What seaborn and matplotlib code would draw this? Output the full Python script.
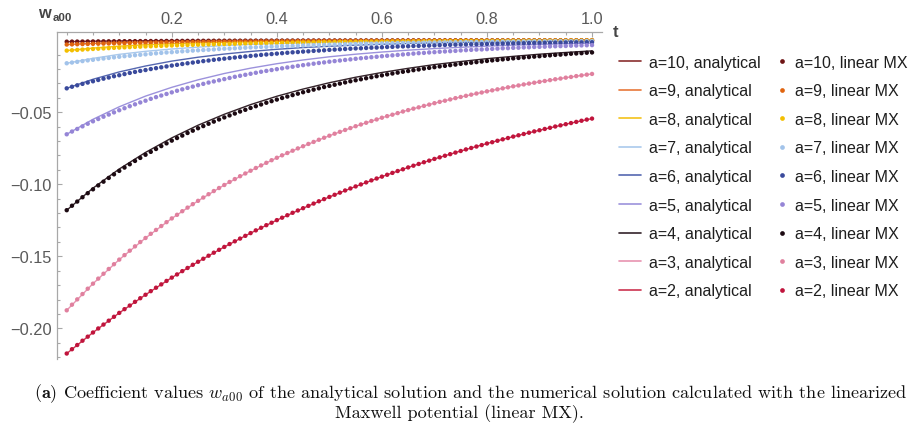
import numpy as np
import pandas as pd
import matplotlib
matplotlib.use("Agg")
import matplotlib.pyplot as plt
from matplotlib.lines import Line2D
from matplotlib.ticker import FixedLocator
import seaborn as sns

# Mode index a, in legend order
levels = [10, 9, 8, 7, 6, 5, 4, 3, 2]

# Sample times of the analytical curves and of the linear MX solution
t_analytical = np.linspace(0.0, 1.0, 21)
t_linear_mx = np.linspace(0.0, 1.0, 101)

# Analytical solution w_a00(t)
analytical_a2 = [-0.2175, -0.2029, -0.1893, -0.1767, -0.1648, -0.1538, -0.1435, -0.1339, -0.1249, -0.1166, -0.1088,
                 -0.1015, -0.0947, -0.0883, -0.0824, -0.0769, -0.0717, -0.0669, -0.0625, -0.0583, -0.0544]
analytical_a3 = [-0.1875, -0.1690, -0.1523, -0.1373, -0.1237, -0.1115, -0.1005, -0.0906, -0.0816, -0.0736, -0.0663,
                 -0.0597, -0.0538, -0.0485, -0.0437, -0.0394, -0.0355, -0.0320, -0.0289, -0.0260, -0.0234]
analytical_a4 = [-0.1180, -0.1027, -0.0894, -0.0779, -0.0678, -0.0590, -0.0514, -0.0447, -0.0389, -0.0339, -0.0295,
                 -0.0257, -0.0224, -0.0195, -0.0169, -0.0148, -0.0128, -0.0112, -0.0097, -0.0085, -0.0074]
analytical_a5 = [-0.0653, -0.0549, -0.0462, -0.0388, -0.0327, -0.0275, -0.0231, -0.0194, -0.0163, -0.0137, -0.0115,
                 -0.0097, -0.0082, -0.0069, -0.0058, -0.0049, -0.0041, -0.0034, -0.0029, -0.0024, -0.0020]
analytical_a6 = [-0.0334, -0.0271, -0.0220, -0.0179, -0.0145, -0.0118, -0.0096, -0.0078, -0.0063, -0.0051, -0.0042,
                 -0.0034, -0.0028, -0.0022, -0.0018, -0.0015, -0.0012, -0.0010, -0.0008, -0.0006, -0.0005]
analytical_a7 = [-0.0160, -0.0126, -0.0098, -0.0077, -0.0061, -0.0048, -0.0037, -0.0029, -0.0023, -0.0018, -0.0014,
                 -0.0011, -0.0009, -0.0007, -0.0005, -0.0004, -0.0003, -0.0003, -0.0002, -0.0002, -0.0001]
analytical_a8 = [-0.00720, -0.00546, -0.00414, -0.00313, -0.00238, -0.00180, -0.00136, -0.00103, -0.00078, -0.00059,
                 -0.00045, -0.00034, -0.00026, -0.00020, -0.00015, -0.00011, -0.00009, -0.00006, -0.00005, -0.00004,
                 -0.00003]
analytical_a9 = [-0.00300, -0.00220, -0.00161, -0.00118, -0.00086, -0.00063, -0.00046, -0.00034, -0.00025, -0.00018,
                 -0.00013, -0.00010, -0.00007, -0.00005, -0.00004, -0.00003, -0.00002, -0.00001, -0.00001, -0.00001,
                 -0.00001]
analytical_a10 = [-0.00100, -0.00071, -0.00050, -0.00035, -0.00025, -0.00018, -0.00013, -0.00009, -0.00006, -0.00004,
                  -0.00003, -0.00002, -0.00002, -0.00001, -0.00001, -0.00001, 0.0, 0.0, 0.0, 0.0, 0.0]

# Numerical solution with the linearized Maxwell potential (linear MX)
linear_mx_a2 = [
    -0.2175, -0.2145, -0.2116, -0.2086, -0.2058, -0.2029, -0.2001, -0.1974, -0.1947, -0.1920,
    -0.1893, -0.1867, -0.1842, -0.1816, -0.1791, -0.1767, -0.1742, -0.1718, -0.1695, -0.1671,
    -0.1648, -0.1626, -0.1603, -0.1581, -0.1559, -0.1538, -0.1517, -0.1496, -0.1475, -0.1455,
    -0.1435, -0.1415, -0.1396, -0.1377, -0.1358, -0.1339, -0.1320, -0.1302, -0.1284, -0.1267,
    -0.1249, -0.1232, -0.1215, -0.1198, -0.1182, -0.1166, -0.1150, -0.1134, -0.1118, -0.1103,
    -0.1088, -0.1073, -0.1058, -0.1043, -0.1029, -0.1015, -0.1001, -0.0987, -0.0973, -0.0960,
    -0.0947, -0.0934, -0.0921, -0.0908, -0.0896, -0.0883, -0.0871, -0.0859, -0.0847, -0.0836,
    -0.0824, -0.0813, -0.0802, -0.0791, -0.0780, -0.0769, -0.0758, -0.0748, -0.0738, -0.0728,
    -0.0717, -0.0708, -0.0698, -0.0688, -0.0679, -0.0669, -0.0660, -0.0651, -0.0642, -0.0633,
    -0.0625, -0.0616, -0.0608, -0.0599, -0.0591, -0.0583, -0.0575, -0.0567, -0.0559, -0.0551,
    -0.0544]
linear_mx_a3 = [
    -0.1875, -0.1836, -0.1799, -0.1762, -0.1725, -0.1690, -0.1655, -0.1621, -0.1588, -0.1555,
    -0.1523, -0.1492, -0.1461, -0.1431, -0.1401, -0.1373, -0.1344, -0.1317, -0.1290, -0.1263,
    -0.1237, -0.1212, -0.1187, -0.1162, -0.1138, -0.1115, -0.1092, -0.1069, -0.1047, -0.1026,
    -0.1005, -0.0984, -0.0964, -0.0944, -0.0925, -0.0906, -0.0887, -0.0869, -0.0851, -0.0833,
    -0.0816, -0.0799, -0.0783, -0.0767, -0.0751, -0.0736, -0.0720, -0.0706, -0.0691, -0.0677,
    -0.0663, -0.0649, -0.0636, -0.0623, -0.0610, -0.0597, -0.0585, -0.0573, -0.0561, -0.0550,
    -0.0538, -0.0527, -0.0517, -0.0506, -0.0495, -0.0485, -0.0475, -0.0466, -0.0456, -0.0447,
    -0.0437, -0.0428, -0.0420, -0.0411, -0.0402, -0.0394, -0.0386, -0.0378, -0.0370, -0.0363,
    -0.0355, -0.0348, -0.0341, -0.0334, -0.0327, -0.0320, -0.0314, -0.0307, -0.0301, -0.0295,
    -0.0289, -0.0283, -0.0277, -0.0271, -0.0266, -0.0260, -0.0255, -0.0249, -0.0244, -0.0239,
    -0.0234]
linear_mx_a4 = [
    -0.1180, -0.1149, -0.1120, -0.1090, -0.1062, -0.1035, -0.1008, -0.0982, -0.0956, -0.0931,
    -0.0907, -0.0884, -0.0861, -0.0838, -0.0817, -0.0795, -0.0775, -0.0755, -0.0735, -0.0716,
    -0.0697, -0.0679, -0.0662, -0.0644, -0.0628, -0.0611, -0.0596, -0.0580, -0.0565, -0.0550,
    -0.0536, -0.0522, -0.0509, -0.0495, -0.0483, -0.0470, -0.0458, -0.0446, -0.0434, -0.0423,
    -0.0412, -0.0401, -0.0391, -0.0381, -0.0371, -0.0361, -0.0352, -0.0343, -0.0334, -0.0325,
    -0.0317, -0.0309, -0.0301, -0.0293, -0.0285, -0.0278, -0.0271, -0.0264, -0.0257, -0.0250,
    -0.0244, -0.0237, -0.0231, -0.0225, -0.0219, -0.0214, -0.0208, -0.0203, -0.0197, -0.0192,
    -0.0187, -0.0182, -0.0178, -0.0173, -0.0169, -0.0164, -0.0160, -0.0156, -0.0152, -0.0148,
    -0.0144, -0.0140, -0.0137, -0.0133, -0.0130, -0.0126, -0.0123, -0.0120, -0.0117, -0.0114,
    -0.0111, -0.0108, -0.0105, -0.0102, -0.0100, -0.0097, -0.0094, -0.0092, -0.0090, -0.0087,
    -0.0085]
linear_mx_a5 = [
    -0.0653, -0.0634, -0.0616, -0.0598, -0.0580, -0.0563, -0.0547, -0.0531, -0.0516, -0.0501,
    -0.0486, -0.0472, -0.0458, -0.0445, -0.0432, -0.0420, -0.0407, -0.0395, -0.0384, -0.0373,
    -0.0362, -0.0351, -0.0341, -0.0331, -0.0322, -0.0312, -0.0303, -0.0294, -0.0286, -0.0278,
    -0.0270, -0.0262, -0.0254, -0.0247, -0.0240, -0.0233, -0.0226, -0.0219, -0.0213, -0.0207,
    -0.0201, -0.0195, -0.0189, -0.0184, -0.0178, -0.0173, -0.0168, -0.0163, -0.0158, -0.0154,
    -0.0149, -0.0145, -0.0141, -0.0137, -0.0133, -0.0129, -0.0125, -0.0122, -0.0118, -0.0115,
    -0.0111, -0.0108, -0.0105, -0.0102, -0.0099, -0.0096, -0.0093, -0.0090, -0.0088, -0.0085,
    -0.0083, -0.0080, -0.0078, -0.0076, -0.0074, -0.0071, -0.0069, -0.0067, -0.0065, -0.0064,
    -0.0062, -0.0060, -0.0058, -0.0056, -0.0055, -0.0053, -0.0052, -0.0050, -0.0049, -0.0047,
    -0.0046, -0.0045, -0.0043, -0.0042, -0.0041, -0.0040, -0.0038, -0.0037, -0.0036, -0.0035,
    -0.0034]
linear_mx_a6 = [
    -0.0334, -0.0323, -0.0313, -0.0303, -0.0294, -0.0285, -0.0276, -0.0267, -0.0259, -0.0250,
    -0.0243, -0.0235, -0.0227, -0.0220, -0.0213, -0.0207, -0.0200, -0.0194, -0.0188, -0.0182,
    -0.0176, -0.0171, -0.0165, -0.0160, -0.0155, -0.0150, -0.0145, -0.0141, -0.0136, -0.0132,
    -0.0128, -0.0124, -0.0120, -0.0116, -0.0113, -0.0109, -0.0106, -0.0102, -0.0099, -0.0096,
    -0.0093, -0.0090, -0.0087, -0.0084, -0.0082, -0.0079, -0.0077, -0.0074, -0.0072, -0.0070,
    -0.0067, -0.0065, -0.0063, -0.0061, -0.0059, -0.0057, -0.0056, -0.0054, -0.0052, -0.0051,
    -0.0049, -0.0047, -0.0046, -0.0044, -0.0043, -0.0042, -0.0040, -0.0039, -0.0038, -0.0037,
    -0.0036, -0.0034, -0.0033, -0.0032, -0.0031, -0.0030, -0.0029, -0.0028, -0.0028, -0.0027,
    -0.0026, -0.0025, -0.0024, -0.0023, -0.0023, -0.0022, -0.0021, -0.0021, -0.0020, -0.0019,
    -0.0019, -0.0018, -0.0018, -0.0017, -0.0017, -0.0016, -0.0015, -0.0015, -0.0015, -0.0014,
    -0.0014]
linear_mx_a7 = [
    -0.0160, -0.0155, -0.0150, -0.0145, -0.0140, -0.0136, -0.0131, -0.0127, -0.0123, -0.0119,
    -0.0115, -0.0111, -0.0108, -0.0104, -0.0101, -0.0098, -0.0094, -0.0091, -0.0088, -0.0085,
    -0.0083, -0.0080, -0.0077, -0.0075, -0.0072, -0.0070, -0.0068, -0.0066, -0.0064, -0.0061,
    -0.0059, -0.0058, -0.0056, -0.0054, -0.0052, -0.0050, -0.0049, -0.0047, -0.0046, -0.0044,
    -0.0043, -0.0041, -0.0040, -0.0039, -0.0037, -0.0036, -0.0035, -0.0034, -0.0033, -0.0032,
    -0.0031, -0.0030, -0.0029, -0.0028, -0.0027, -0.0026, -0.0025, -0.0024, -0.0024, -0.0023,
    -0.0022, -0.0021, -0.0021, -0.0020, -0.0019, -0.0019, -0.0018, -0.0018, -0.0017, -0.0016,
    -0.0016, -0.0015, -0.0015, -0.0014, -0.0014, -0.0013, -0.0013, -0.0013, -0.0012, -0.0012,
    -0.0011, -0.0011, -0.0011, -0.0010, -0.0010, -0.0010, -0.0009, -0.0009, -0.0009, -0.0008,
    -0.0008, -0.0008, -0.0008, -0.0007, -0.0007, -0.0007, -0.0007, -0.0007, -0.0006, -0.0006,
    -0.0006]
linear_mx_a8 = [
    -0.00720, -0.00696, -0.00673, -0.00650, -0.00628, -0.00607, -0.00587, -0.00568, -0.00549, -0.00530,
    -0.00513, -0.00495, -0.00479, -0.00463, -0.00447, -0.00432, -0.00418, -0.00404, -0.00391, -0.00377,
    -0.00365, -0.00353, -0.00341, -0.00329, -0.00318, -0.00308, -0.00297, -0.00288, -0.00278, -0.00269,
    -0.00260, -0.00251, -0.00243, -0.00234, -0.00227, -0.00219, -0.00212, -0.00205, -0.00198, -0.00191,
    -0.00185, -0.00179, -0.00173, -0.00167, -0.00161, -0.00156, -0.00151, -0.00146, -0.00141, -0.00136,
    -0.00132, -0.00127, -0.00123, -0.00119, -0.00115, -0.00111, -0.00107, -0.00104, -0.00100, -0.00097,
    -0.00094, -0.00091, -0.00087, -0.00085, -0.00082, -0.00079, -0.00076, -0.00074, -0.00071, -0.00069,
    -0.00067, -0.00064, -0.00062, -0.00060, -0.00058, -0.00056, -0.00054, -0.00053, -0.00051, -0.00049,
    -0.00047, -0.00046, -0.00044, -0.00043, -0.00041, -0.00040, -0.00039, -0.00037, -0.00036, -0.00035,
    -0.00034, -0.00033, -0.00032, -0.00031, -0.00030, -0.00029, -0.00028, -0.00027, -0.00026, -0.00025,
    -0.00024]
linear_mx_a9 = [
    -0.00300, -0.00290, -0.00280, -0.00270, -0.00261, -0.00252, -0.00243, -0.00235, -0.00227, -0.00219,
    -0.00211, -0.00204, -0.00197, -0.00190, -0.00184, -0.00178, -0.00171, -0.00165, -0.00160, -0.00154,
    -0.00149, -0.00144, -0.00139, -0.00134, -0.00130, -0.00125, -0.00121, -0.00117, -0.00113, -0.00109,
    -0.00105, -0.00101, -0.00098, -0.00095, -0.00091, -0.00088, -0.00085, -0.00082, -0.00079, -0.00077,
    -0.00074, -0.00071, -0.00069, -0.00067, -0.00064, -0.00062, -0.00060, -0.00058, -0.00056, -0.00054,
    -0.00052, -0.00050, -0.00049, -0.00047, -0.00045, -0.00044, -0.00042, -0.00041, -0.00039, -0.00038,
    -0.00037, -0.00035, -0.00034, -0.00033, -0.00032, -0.00031, -0.00030, -0.00029, -0.00028, -0.00027,
    -0.00026, -0.00025, -0.00024, -0.00023, -0.00023, -0.00022, -0.00021, -0.00020, -0.00020, -0.00019,
    -0.00018, -0.00018, -0.00017, -0.00016, -0.00016, -0.00015, -0.00015, -0.00014, -0.00014, -0.00013,
    -0.00013, -0.00012, -0.00012, -0.00012, -0.00011, -0.00011, -0.00010, -0.00010, -0.00010, -0.00009,
    -0.00009]
linear_mx_a10 = [
    -0.00100, -0.00096, -0.00093, -0.00090, -0.00087, -0.00084, -0.00081, -0.00078, -0.00075, -0.00072,
    -0.00070, -0.00067, -0.00065, -0.00063, -0.00060, -0.00058, -0.00056, -0.00054, -0.00052, -0.00050,
    -0.00049, -0.00047, -0.00045, -0.00044, -0.00042, -0.00041, -0.00039, -0.00038, -0.00037, -0.00035,
    -0.00034, -0.00033, -0.00032, -0.00031, -0.00029, -0.00028, -0.00027, -0.00026, -0.00025, -0.00025,
    -0.00024, -0.00023, -0.00022, -0.00021, -0.00021, -0.00020, -0.00019, -0.00018, -0.00018, -0.00017,
    -0.00017, -0.00016, -0.00015, -0.00015, -0.00014, -0.00014, -0.00013, -0.00013, -0.00012, -0.00012,
    -0.00012, -0.00011, -0.00011, -0.00010, -0.00010, -0.00010, -0.00009, -0.00009, -0.00009, -0.00008,
    -0.00008, -0.00008, -0.00007, -0.00007, -0.00007, -0.00007, -0.00006, -0.00006, -0.00006, -0.00006,
    -0.00006, -0.00005, -0.00005, -0.00005, -0.00005, -0.00005, -0.00005, -0.00004, -0.00004, -0.00004,
    -0.00004, -0.00004, -0.00004, -0.00004, -0.00003, -0.00003, -0.00003, -0.00003, -0.00003, -0.00003,
    -0.00003]

analytical = {2: analytical_a2, 3: analytical_a3, 4: analytical_a4, 5: analytical_a5, 6: analytical_a6,
              7: analytical_a7, 8: analytical_a8, 9: analytical_a9, 10: analytical_a10}
linear_mx = {2: linear_mx_a2, 3: linear_mx_a3, 4: linear_mx_a4, 5: linear_mx_a5, 6: linear_mx_a6,
             7: linear_mx_a7, 8: linear_mx_a8, 9: linear_mx_a9, 10: linear_mx_a10}

line_colors = {10: "#8a2f2f", 9: "#e8783a", 8: "#f4c21a", 7: "#aac9ec", 6: "#5567b0",
               5: "#9c92dc", 4: "#34232a", 3: "#e793b0", 2: "#cc3350"}
dot_colors = {10: "#6e1414", 9: "#e0640f", 8: "#f3bf00", 7: "#a2c3ea", 6: "#3a4a9c",
              5: "#9585d6", 4: "#1c0a12", 3: "#e0809e", 2: "#c0143c"}

df_lines = pd.concat([pd.DataFrame({"t": t_analytical, "w": analytical[a], "a": f"a={a}"}) for a in levels],
                     ignore_index=True)
df_dots = pd.concat([pd.DataFrame({"t": t_linear_mx, "w": linear_mx[a], "a": f"a={a}"}) for a in levels],
                    ignore_index=True)
hue_order = [f"a={a}" for a in levels]

sns.set_theme(style="white")
plt.rcParams["font.family"] = ["Liberation Sans", "DejaVu Sans"]

W, H = 912, 427
fig = plt.figure(figsize=(W / 100, H / 100), dpi=100)
ax_l, ax_r, ax_t, ax_b = 57, 602, 33.3, 360
ax = fig.add_axes([ax_l / W, 1 - ax_b / H, (ax_r - ax_l) / W, (ax_b - ax_t) / H])

sns.lineplot(data=df_lines, x="t", y="w", hue="a", hue_order=hue_order,
             palette={f"a={a}": line_colors[a] for a in levels},
             linewidth=1.0, estimator=None, sort=False, legend=False, ax=ax)
sns.scatterplot(data=df_dots, x="t", y="w", hue="a", hue_order=hue_order,
                palette={f"a={a}": dot_colors[a] for a in levels},
                s=10, linewidth=0, legend=False, ax=ax, zorder=3)

ax.set_xlim(-0.0185, 1.019)
ax.set_ylim(-0.2213, 0.0055)
ax.set_xlabel("")
ax.set_ylabel("")

axis_gray = "#a8a8a8"
label_gray = "#5a5a5a"
for side in ("right", "bottom"):
    ax.spines[side].set_visible(False)
for side in ("top", "left"):
    ax.spines[side].set_visible(True)
    ax.spines[side].set_color(axis_gray)
    ax.spines[side].set_linewidth(0.9)

x_major = [0.2, 0.4, 0.6, 0.8, 1.0]
x_labels = ["0.2", "0.4", "0.6", "0.8", "1.0"]
x_minor = [0.0, 0.05, 0.1, 0.15, 0.25, 0.3, 0.35, 0.45, 0.5, 0.55, 0.65, 0.7, 0.75, 0.85, 0.9, 0.95]
y_major = [-0.05, -0.10, -0.15, -0.20]
y_labels = ["\u22120.05", "\u22120.10", "\u22120.15", "\u22120.20"]
y_minor = [-0.01, -0.02, -0.03, -0.04, -0.06, -0.07, -0.08, -0.09, -0.11, -0.12, -0.13, -0.14,
           -0.16, -0.17, -0.18, -0.19, -0.21, -0.22]

ax.xaxis.set_major_locator(FixedLocator(x_major))
ax.xaxis.set_minor_locator(FixedLocator(x_minor))
ax.set_xticklabels(x_labels)
ax.yaxis.set_major_locator(FixedLocator(y_major))
ax.yaxis.set_minor_locator(FixedLocator(y_minor))
ax.set_yticklabels(y_labels)

ax.tick_params(axis="x", which="both", top=True, bottom=False, labeltop=True, labelbottom=False,
               direction="in", color=axis_gray, width=0.8, labelcolor=label_gray, labelsize=11.8, pad=4.5)
ax.tick_params(axis="y", which="both", left=True, right=False, labelleft=True,
               direction="in", color=axis_gray, width=0.8, labelcolor=label_gray, labelsize=11.8, pad=3.6)
ax.tick_params(which="major", length=3.8)
ax.tick_params(which="minor", length=2.0)

# Axis labels
fig.text(38 / W, 1 - 18.3 / H, "w", fontsize=11.8, fontweight="bold", color="#454545", va="baseline")
fig.text(53 / W, 1 - 20.7 / H, "a00", fontsize=8.2, fontweight="bold", color="#454545", va="baseline")
fig.text(613 / W, 1 - 37 / H, "t", fontsize=11.8, fontweight="bold", color="#454545", va="baseline")

# Legends: analytical curves and linear MX points
leg_kw = dict(loc="upper left", frameon=False, borderpad=0, borderaxespad=0, fontsize=11.5,
              labelspacing=0.85, labelcolor="#1e1e1e")
handles_a = [Line2D([], [], color=line_colors[a], lw=1.2) for a in levels]
labels_a = [f"a={a}, analytical" for a in levels]
leg1 = fig.legend(handles_a, labels_a, bbox_to_anchor=(619 / W, 1 - 55.7 / H),
                  handlelength=1.4, handletextpad=0.45, **leg_kw)
handles_m = [Line2D([], [], color=dot_colors[a], lw=0, marker="o", markersize=3.4, markeredgewidth=0)
             for a in levels]
labels_m = [f"a={a}, linear MX" for a in levels]
leg2 = fig.legend(handles_m, labels_m, bbox_to_anchor=(777 / W, 1 - 55.7 / H),
                  handlelength=0.6, handletextpad=0.5, **leg_kw)

# Caption
fig.text(471 / W, 1 - 393.5 / H,
         r"$\mathbf{(a)}$ Coefficient values $w_{a00}$ of the analytical solution and the numerical solution "
         r"calculated with the linearized",
         ha="center", va="center", fontsize=13.1, family="cmr10", math_fontfamily="cm", color="#111111")
fig.text(459 / W, 1 - 413.5 / H, "Maxwell potential (linear MX).",
         ha="center", va="center", fontsize=13.1, family="cmr10", color="#111111")

fig.savefig("out.png", dpi=100)
